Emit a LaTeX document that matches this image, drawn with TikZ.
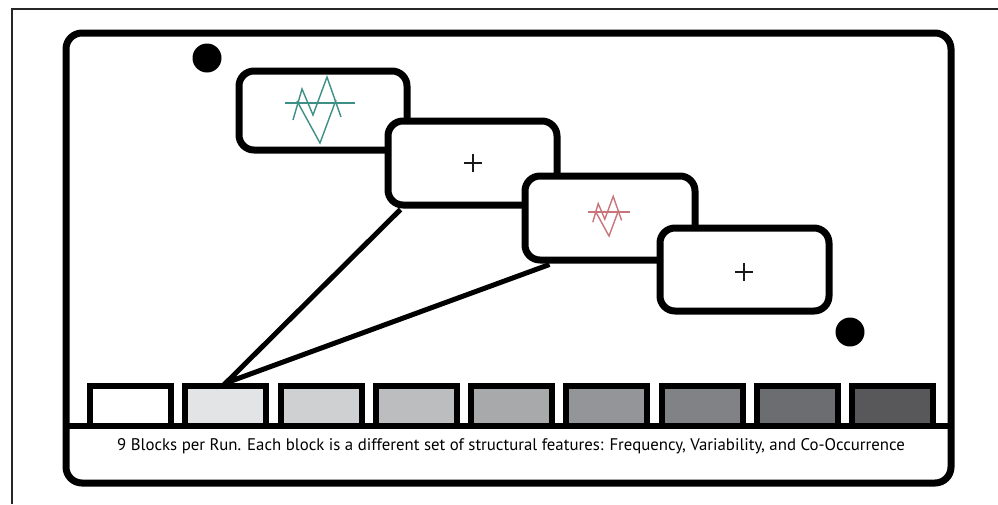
\documentclass[tikz,border=0pt]{standalone}
\usepackage{fontspec}
\setmainfont{PT Sans}
\usetikzlibrary{calc}
\definecolor{teal1}{HTML}{3E8F86}
\definecolor{rose1}{HTML}{C8767C}
\tikzset{
  screen/.style={draw=black, fill=white, line width=7pt, rounded corners=15pt, inner sep=0pt},
  blk/.style={draw=black, line width=6pt, inner sep=0pt, minimum width=81pt, minimum height=40pt},
  dot/.style={circle, fill=black, inner sep=0pt, minimum size=29pt},
  wave/.style={line width=1.4pt},
  link/.style={line width=5pt, line join=miter},
  crossline/.style={line width=2.5pt, black!90}
}
\newcommand{\wavepic}[3]{%
  \begin{scope}[shift={(#1)}, scale=#2]
    \draw[wave, #3] (-35,0) -- (35,0);
    \draw[wave, #3] (-27,17) -- (-18,-14) -- (-7,12) -- (7,-26) -- (21,14);
    \draw[wave, #3] (-23,-2) -- (0,40) -- (16,-3);
  \end{scope}}
\newcommand{\fixcross}[1]{%
  \draw[crossline] ($(#1)+(-9,0)$) -- ($(#1)+(9,0)$);
  \draw[crossline] ($(#1)+(0,-9)$) -- ($(#1)+(0,9)$);}
\begin{document}
\begin{tikzpicture}[x=1pt, y=-1pt]
\useasboundingbox (0,0) rectangle (998,504);
% outer thin frame
\draw[line width=1.5pt, black!85] (12,504) -- (12,9) -- (998,9);
% main rounded panel
\draw[line width=7pt, rounded corners=16pt, fill=white] (66,33) rectangle (951,483);
\draw[line width=6pt] (66,426) -- (951,426);
% blocks
\foreach \i/\c in {1/FFFFFF,2/E2E4E6,3/CFD0D2,4/BCBDBF,5/A7A9AB,6/939598,7/808285,8/6C6D70,9/58585B}{
  \definecolor{bc}{HTML}{\c}
  \node[blk, fill=bc] (b\i) at ({90+95.25*(\i-1)+40.5},406) {};
}
\node[font=\fontsize{16.8}{19}\selectfont, inner sep=0pt, text=black] (cap) at (511,446) {9 Blocks per Run. Each block is a different set of structural features: Frequency, Variability, and Co-Occurrence};
% dots
\node[dot] (d1) at (207,58) {};
\node[dot] (d2) at (850,332) {};
% screens
\node[screen, minimum width=168pt, minimum height=79pt] (s1) at (323,110.5) {};
\node[screen, minimum width=169pt, minimum height=84pt] (s2) at (472.5,163) {};
\node[screen, minimum width=170pt, minimum height=84pt] (s3) at (610,218) {};
\node[screen, minimum width=169pt, minimum height=83pt] (s4) at (744.5,269.5) {};
% connectors from block 2 to screens 2 and 3
\draw[link] ($(s2.south west)+(16,1)$) -- (b2.north) -- ($(s3.south west)+(28,1)$);
% waves and fixation crosses
\wavepic{320,103}{1}{teal1}
\wavepic{609,212}{0.6}{rose1}
\coordinate (p2) at (473,163);
\coordinate (p4) at (744,272);
\fixcross{p2}
\fixcross{p4}
\end{tikzpicture}
\end{document}
